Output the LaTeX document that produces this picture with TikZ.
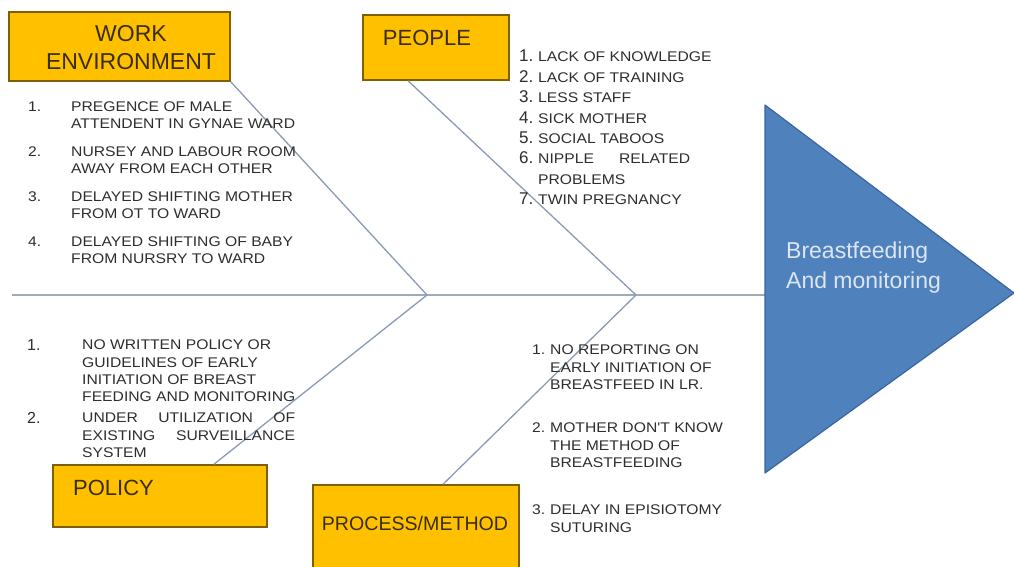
\documentclass[tikz,border=0pt]{standalone}
\usepackage{fontspec}
\setmainfont{Liberation Sans}
\newfontfamily\listfont[FakeStretch=1.12]{Liberation Sans}
\usetikzlibrary{calc}

\definecolor{boxfill}{HTML}{FFC000}
\definecolor{boxline}{HTML}{7F6000}
\definecolor{bone}{HTML}{8A9BB5}
\definecolor{spinecol}{HTML}{A0AAB8}
\definecolor{headfill}{HTML}{4F81BD}
\definecolor{headline}{HTML}{3A65A0}
\definecolor{headtext}{HTML}{DCE6F2}
\definecolor{listtext}{HTML}{2E2E2E}
\definecolor{cattext}{HTML}{3A2E08}

\begin{document}
\begin{tikzpicture}[x=1pt,y=-1pt,
  catbox/.style={draw=boxline, line width=1.4pt, fill=boxfill, inner sep=0pt},
  cattitle/.style={font=\fontsize{22}{28}\selectfont, text=cattext, inner sep=0pt, align=center},
  bonestyle/.style={draw=bone, line width=1.3pt},
  spinestyle/.style={draw=spinecol, line width=2pt},
  listtext/.style={font=\listfont\fontsize{14}{17}\selectfont, text=listtext, inner sep=0pt, anchor=north west, align=left},
  listnum/.style={listtext},
  bignum/.style={listtext, font=\fontsize{16}{17}\selectfont}
]
% page
\fill[white] (0,0) rectangle (1014,567);
\useasboundingbox (0,0) rectangle (1014,567);

% spine and joints
\coordinate (tail) at (12,295);
\coordinate (J1) at (427,295);
\coordinate (J2) at (636,295);
\coordinate (head) at (765,295);
\draw[spinestyle] (tail) -- (head);

% category boxes
\node[catbox, minimum width=221pt, minimum height=69pt] (we) at (119.5,46.5) {};
\node[catbox, minimum width=146pt, minimum height=65pt] (pp) at (436,47.5) {};
\node[catbox, minimum width=214pt, minimum height=62pt] (po) at (160,496) {};
\node[catbox, minimum width=206pt, minimum height=90pt] (pm) at (416,530) {};

% bones
\draw[bonestyle] (we.south east) -- (J1);
\draw[bonestyle] ($(pp.south west)!0.31!(pp.south east)$) -- (J2);
\draw[bonestyle] ($(po.north west)!0.75!(po.north east)$) -- (J1);
\draw[bonestyle] ($(pm.north west)!0.63!(pm.north east)$) -- (J2);

% category titles
\node[cattitle, font=\fontsize{23}{28}\selectfont] (wet) at (131,48) {WORK\\ENVIRONMENT};
\node[cattitle] (ppt) at (427,38) {PEOPLE};
\node[cattitle] (pot) at (113.5,488) {POLICY};
\node[cattitle, font=\fontsize{19.6}{24}\selectfont] (pmt) at (415,523) {PROCESS/METHOD};

% work environment causes
\node[listnum] (wn1) at (28,102) {1.};
\node[listtext] (w1) at (71,102) {PREGENCE OF MALE\\ATTENDENT IN GYNAE WARD};
\node[listnum] (wn2) at (28,147) {2.};
\node[listtext] (w2) at (71,147) {NURSEY AND LABOUR ROOM\\AWAY FROM EACH OTHER};
\node[listnum] (wn3) at (28,192) {3.};
\node[listtext] (w3) at (71,192) {DELAYED SHIFTING MOTHER\\FROM OT TO WARD};
\node[listnum] (wn4) at (28,237) {4.};
\node[listtext] (w4) at (71,237) {DELAYED SHIFTING OF BABY\\FROM NURSRY TO WARD};

% people causes
\node[bignum, font=\fontsize{17}{20.4}\selectfont] (pn) at (519,50) {1.\\2.\\3.\\4.\\5.\\6.\\\mbox{}\\7.};
\node[listtext, font=\listfont\fontsize{14}{20.4}\selectfont] (pl) at (538,52)
  {LACK OF KNOWLEDGE\\LACK OF TRAINING\\LESS STAFF\\SICK MOTHER\\SOCIAL TABOOS\\
   \makebox[152pt][s]{NIPPLE RELATED}\\PROBLEMS\\TWIN PREGNANCY};

% policy causes
\node[bignum] (on1) at (27,339) {1.};
\node[listtext, font=\listfont\fontsize{14}{17.3}\selectfont] (o1) at (82,340)
  {NO WRITTEN POLICY OR\\GUIDELINES OF EARLY\\INITIATION OF BREAST\\FEEDING AND MONITORING};
\node[bignum] (on2) at (27,412) {2.};
\node[listtext, font=\listfont\fontsize{14}{17.3}\selectfont] (o2) at (82,413)
  {\makebox[213pt][s]{UNDER UTILIZATION OF}\\\makebox[213pt][s]{EXISTING SURVEILLANCE}\\SYSTEM};

% process / method causes
\node[listnum] (mn1) at (532,345) {1.};
\node[listtext, font=\listfont\fontsize{14}{17.5}\selectfont] (m1) at (550,345)
  {NO REPORTING ON\\EARLY INITIATION OF\\BREASTFEED IN LR.};
\node[listnum] (mn2) at (532,423) {2.};
\node[listtext, font=\listfont\fontsize{14}{17.5}\selectfont] (m2) at (550,423)
  {MOTHER DON'T KNOW\\THE METHOD OF\\BREASTFEEDING};
\node[listnum] (mn3) at (532,505) {3.};
\node[listtext, font=\listfont\fontsize{14}{17.5}\selectfont] (m3) at (550,505)
  {DELAY IN EPISIOTOMY\\SUTURING};

% effect head
\coordinate (htop) at (765,105);
\coordinate (happ) at (1014,293);
\coordinate (hbot) at (765,473);
\filldraw[fill=headfill, draw=headline, line width=1.2pt, line join=round] (htop) -- (happ) -- (hbot) -- cycle;
\node[font=\fontsize{23}{30}\selectfont, text=headtext, align=left, anchor=west, inner sep=0pt] (ht) at (786,268)
  {Breastfeeding\\And monitoring};
\end{tikzpicture}
\end{document}
